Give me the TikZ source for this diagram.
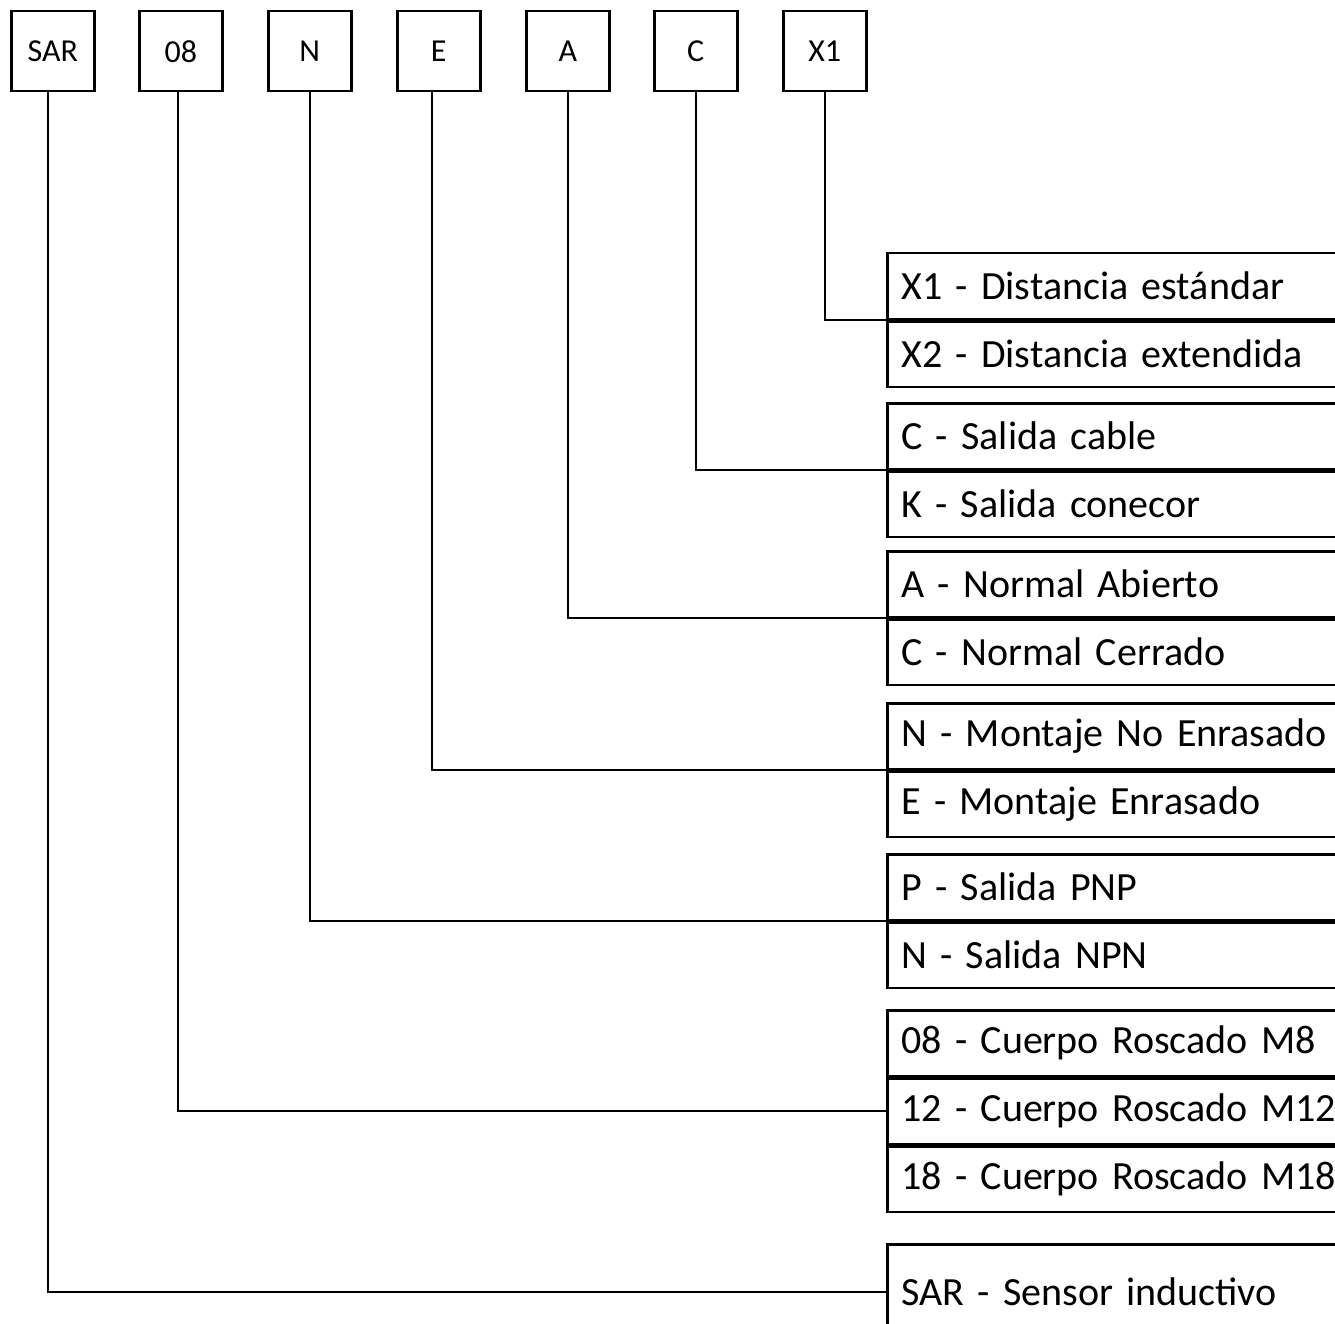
\documentclass[tikz,border=0pt]{standalone}
\usepackage{fontspec}
\setmainfont{Carlito}[WordSpace=0.75]
\begin{document}
\begin{tikzpicture}[x=1pt,y=-1pt,
  codebox/.style={draw,line width=2.5pt,minimum width=83pt,minimum height=80pt,
    anchor=north west,inner sep=0pt,font=\fontsize{32}{35}\selectfont},
  optbox/.style={draw,line width=2.5pt,minimum height=65.5pt,text width=440pt,
    inner xsep=14pt,inner ysep=0pt,anchor=north west,align=left,
    font=\fontsize{40}{43}\selectfont},
  wire/.style={line width=2.5pt}]
\useasboundingbox (0,0) rectangle (1335,1324);
\clip (0,0) rectangle (1335,1324);
%\draw[very thin,gray] (0,0) grid[step=100] (1335,1324);
\foreach \lbl/\nm/\xx in {SAR/sar/10,08/c08/138,N/cn/267,E/ce/396,A/ca/525,C/cc/653,X1/cx/782}
  \node[codebox] (\nm) at (\xx,10) {\lbl};

\node[optbox] (x1) at (886,252) {X1 - Distancia estándar};
\node[optbox] (x2) at (x1.south west) {X2 - Distancia extendida};
\node[optbox] (cab) at (886,402) {C - Salida cable};
\node[optbox] (con) at (cab.south west) {K - Salida conecor};
\node[optbox] (abi) at (886,550) {A - Normal Abierto};
\node[optbox] (cer) at (abi.south west) {C - Normal Cerrado};
\node[optbox] (nor) at (886,702) {N - Montaje No Enrasado};
\node[optbox] (enr) at (nor.south west) {E - Montaje Enrasado};
\node[optbox] (pnp) at (886,853) {P - Salida PNP};
\node[optbox] (npn) at (pnp.south west) {N - Salida NPN};
\node[optbox] (m8) at (886,1009) {08 - Cuerpo Roscado M8};
\node[optbox] (m12) at (m8.south west) {12 - Cuerpo Roscado M12};
\node[optbox] (m18) at (m12.south west) {18 - Cuerpo Roscado M18};
\node[optbox,minimum height=95pt] (ind) at (886,1243) {SAR - Sensor inductivo};

\draw[wire] (cx.south) |- (x1.south west);
\draw[wire] (cc.south) |- (cab.south west);
\draw[wire] (ca.south) |- (abi.south west);
\draw[wire] ([xshift=-7pt]ce.south) |- (nor.south west);
\draw[wire] (cn.south) |- (pnp.south west);
\draw[wire] ([xshift=-3pt]c08.south) |- (m12.west);
\draw[wire] ([xshift=-5pt]sar.south) |- (ind.west);
\end{tikzpicture}
\end{document}
